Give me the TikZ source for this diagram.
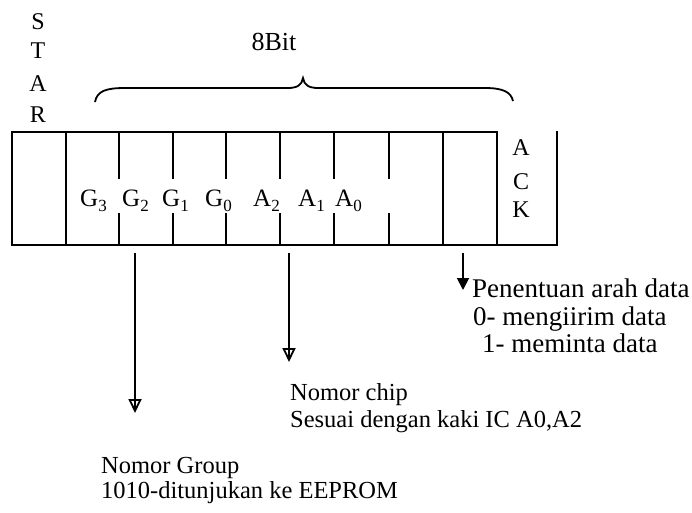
\documentclass[tikz,border=0pt]{standalone}
\usepackage{fontspec}
\setmainfont{Liberation Serif}
\usetikzlibrary{arrows.meta}
\newcommand\lowsub[1]{\raisebox{-0.22em}{\fontsize{17}{17}\selectfont #1}}
\begin{document}
\begin{tikzpicture}[x=1pt,y=-1pt,
  frame/.style={line width=2pt},
  lbl/.style={inner sep=0pt,anchor=base west,font=\fontsize{25}{25}\selectfont},
  txt/.style={inner sep=0pt,anchor=base west,font=\fontsize{24.5}{24.5}\selectfont},
  bigtxt/.style={inner sep=0pt,anchor=base west,font=\fontsize{27}{27}\selectfont},
  vlet/.style={inner sep=0pt,anchor=base,font=\fontsize{24}{24}\selectfont},
  openarrow/.style={line width=1.8pt,-{Triangle[open,width=13pt,length=14pt]}},
  solidarrow/.style={line width=1.8pt,-{Triangle[width=12pt,length=12pt]}}]
\useasboundingbox (0,0) rectangle (692,512);
% register frame
\draw[frame] (557,131) -- (557,245) -- (12,245) -- (12,132) -- (497,132) -- (497,245);
\foreach \x in {66,443} \draw[frame] (\x,132) -- (\x,245);
\foreach \x in {119,173,226,280,334,389} {
  \draw[frame] (\x,132) -- (\x,179);
  \draw[frame] (\x,213) -- (\x,245);
}
% brace
\draw[line width=1.8pt] (95,102) .. controls (97,91) and (106,88) .. (125,88)
  -- (288,88) .. controls (297,88) and (302,85) .. (303,78)
  .. controls (304,85) and (309,88) .. (318,88)
  -- (485,88) .. controls (503,88) and (511,92) .. (513,101);
\node[txt,anchor=base,font=\fontsize{26}{26}\selectfont] (bits) at (274,50) {8Bit};
% START letters
\node[vlet] (s1) at (38,29) {S};
\node[vlet] (s2) at (38,58) {T};
\node[vlet] (s3) at (38,91) {A};
\node[vlet] (s4) at (38,122) {R};
% ACK letters
\node[vlet] (k1) at (521,155) {A};
\node[vlet] (k2) at (521,189) {C};
\node[vlet] (k3) at (521,217) {K};
% bit labels
\node[lbl] (g3) at (80,206) {G\lowsub{3}};
\node[lbl] (g2) at (122,206) {G\lowsub{2}};
\node[lbl] (g1) at (162,206) {G\lowsub{1}};
\node[lbl] (g0) at (205,206) {G\lowsub{0}};
\node[lbl] (a2) at (253,206) {A\lowsub{2}};
\node[lbl] (a1) at (298,206) {A\lowsub{1}};
\node[lbl] (a0) at (335,206) {A\lowsub{0}};
% arrows
\coordinate (gs) at (135,253);
\coordinate (ge) at (135,413);
\coordinate (cs) at (289,253);
\coordinate (ce) at (289,362);
\coordinate (ds) at (463,253);
\coordinate (de) at (463,290);
\draw[openarrow] (gs) -- (ge);
\draw[line width=1.4pt] (ge) ++(0,-14) -- ++(0,10);
\draw[openarrow] (cs) -- (ce);
\draw[line width=1.4pt] (ce) ++(0,-14) -- ++(0,10);
\draw[solidarrow] (ds) -- (de);
% texts
\node[bigtxt] (dir1) at (472,297) {Penentuan arah data};
\node[bigtxt] (dir2) at (473,325) {0- mengiirim data};
\node[bigtxt] (dir3) at (482,352) {1- meminta data};
\node[txt] (chip1) at (290,400) {Nomor chip};
\node[txt] (chip2) at (290,427) {Sesuai dengan kaki IC A0,A2};
\node[txt] (grp1) at (101,473) {Nomor Group};
\node[txt] (grp2) at (101,498) {1010-ditunjukan ke EEPROM};
\end{tikzpicture}
\end{document}
